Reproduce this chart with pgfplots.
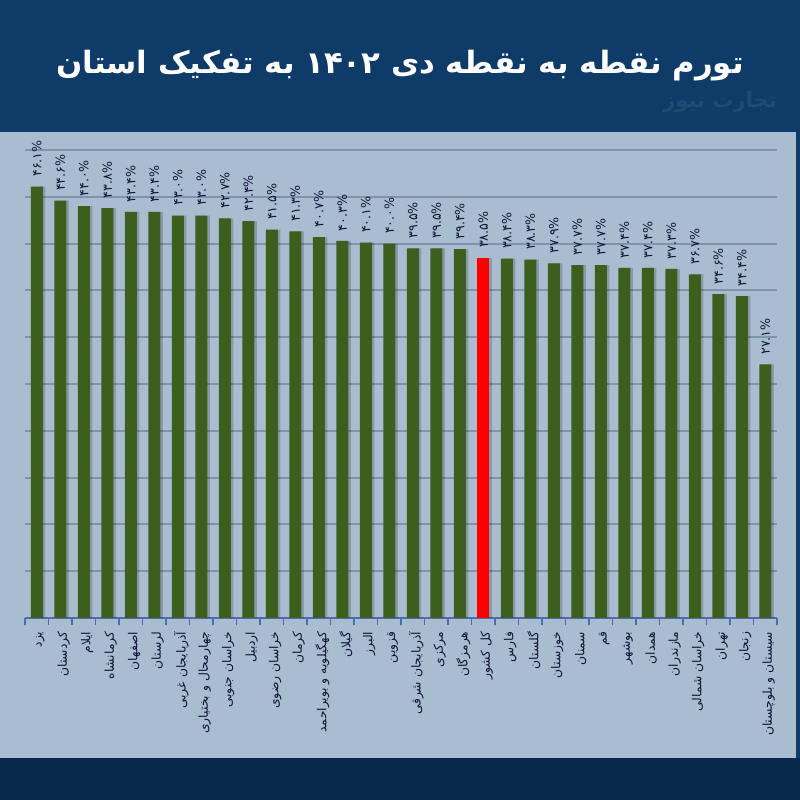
\documentclass[border=0pt]{standalone}
\usepackage{fontspec}
\usepackage{pgfplots}
\usepackage{pgfplotstable}
\pgfplotsset{compat=1.18}
\TeXXeTstate=1
\newfontfamily\arabicfont[Script=Arabic]{DejaVu Sans}
\newcommand\fa[1]{{\arabicfont\beginR #1\endR}}

\definecolor{bgblue}{HTML}{0E3B67}
\definecolor{bgdark}{HTML}{08294B}
\definecolor{panel}{HTML}{AABCCF}
\definecolor{gridc}{HTML}{7F93AB}
\definecolor{axisc}{HTML}{4B6EAF}
\definecolor{barg}{HTML}{3C5F1E}
\definecolor{txtc}{HTML}{10163A}

\pgfplotstableread{
x y lab
0 46.1 ۴۶.۱
1 44.6 ۴۴.۶
2 44.0 ۴۴.۰
3 43.8 ۴۳.۸
4 43.4 ۴۳.۴
5 43.4 ۴۳.۴
6 43.0 ۴۳.۰
7 43.0 ۴۳.۰
8 42.7 ۴۲.۷
9 42.4 ۴۲.۴
10 41.5 ۴۱.۵
11 41.3 ۴۱.۳
12 40.7 ۴۰.۷
13 40.3 ۴۰.۳
14 40.1 ۴۰.۱
15 40.0 ۴۰.۰
16 39.5 ۳۹.۵
17 39.5 ۳۹.۵
18 39.4 ۳۹.۴
20 38.4 ۳۸.۴
21 38.3 ۳۸.۳
22 37.9 ۳۷.۹
23 37.7 ۳۷.۷
24 37.7 ۳۷.۷
25 37.4 ۳۷.۴
26 37.4 ۳۷.۴
27 37.3 ۳۷.۳
28 36.7 ۳۶.۷
29 34.6 ۳۴.۶
30 34.4 ۳۴.۴
31 27.1 ۲۷.۱
}\greendata

\pgfplotstableread{
x y lab
19 38.5 ۳۸.۵
}\reddata

\begin{document}
\begin{tikzpicture}
\useasboundingbox (0,0) rectangle (16,16);
\fill[bgblue] (0,0) rectangle (16,16);
\fill[bgdark] (0,0) rectangle (16,0.84);
\fill[panel] (0,0.84) rectangle (15.92,13.36);
\node[text=white, opacity=0.08, font=\arabicfont\bfseries\fontsize{12}{14}\selectfont] at (14.4,13.95) {\beginR تجارت نیوز\endR};
\node[text=white, font=\arabicfont\bfseries\fontsize{17.5}{21}\selectfont] at (8,14.68) {\beginR تورم نقطه به نقطه دی ۱۴۰۲ به تفکیک استان\endR};
\begin{axis}[
  at={(0.5cm,3.64cm)}, anchor=south west,
  scale only axis, width=15.04cm, height=9.36cm,
  xmin=-0.5, xmax=31.5, ymin=0, ymax=50,
  axis x line*=bottom, axis y line*=left,
  y axis line style={draw=none},
  x axis line style={draw=axisc, line width=1.2pt},
  ytick={0,5,...,50}, yticklabels={}, ytick style={draw=none},
  ymajorgrids, grid style={draw=gridc, line width=1.1pt},
  xtick={0,...,31},
  major x tick style={draw=none},
  minor xtick={-0.5,0.5,...,31.5},
  minor x tick style={draw=axisc, line width=0.8pt},
  minor tick length=4pt, tick align=outside,
  xticklabels={
   {\fa{یزد}},{\fa{کردستان}},{\fa{ایلام}},{\fa{کرمانشاه}},{\fa{اصفهان}},{\fa{لرستان}},
   {\fa{آذربایجان غربی}},{\fa{چهارمحال و بختیاری}},{\fa{خراسان جنوبی}},{\fa{اردبیل}},
   {\fa{خراسان رضوی}},{\fa{کرمان}},{\fa{کهگیلویه و بویراحمد}},{\fa{گیلان}},{\fa{البرز}},
   {\fa{قزوین}},{\fa{آذربایجان شرقی}},{\fa{مرکزی}},{\fa{هرمزگان}},{\fa{کل کشور}},
   {\fa{فارس}},{\fa{گلستان}},{\fa{خوزستان}},{\fa{سمنان}},{\fa{قم}},{\fa{بوشهر}},
   {\fa{همدان}},{\fa{مازندران}},{\fa{خراسان شمالی}},{\fa{تهران}},{\fa{زنجان}},
   {\fa{سیستان و بلوچستان}}},
  xticklabel style={rotate=90, anchor=east, text=txtc, font=\fontsize{7}{8.5}\selectfont, yshift=-2pt},
  ybar, bar width=0.24cm, bar shift=0pt,
  point meta=explicit symbolic,
  nodes near coords={\pgfplotspointmeta\%},
  every node near coord/.append style={rotate=90, anchor=west, text=txtc, font=\arabicfont\fontsize{7.2}{8.5}\selectfont, xshift=2pt},
  clip=false,
]
\addplot[draw=none, fill=black, fill opacity=0.18, bar shift=1.5pt, nodes near coords={}] table[x=x,y=y,meta=lab] {\greendata};
\addplot[draw=none, fill=black, fill opacity=0.18, bar shift=1.5pt, nodes near coords={}] table[x=x,y=y,meta=lab] {\reddata};
\addplot[draw=none, fill=barg] table[x=x,y=y,meta=lab] {\greendata};
\addplot[draw=none, fill=red] table[x=x,y=y,meta=lab] {\reddata};
\end{axis}
\end{tikzpicture}
\end{document}
